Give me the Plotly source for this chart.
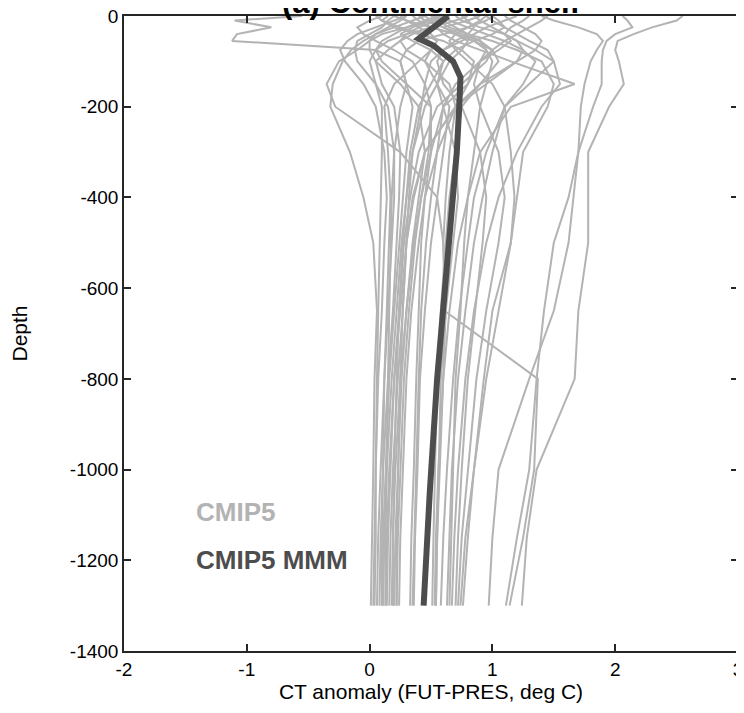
import plotly.graph_objects as go

# Depth levels (m) shared by the individual CMIP5 model profiles
depth = [0, -10, -25, -40, -55, -75, -100, -150, -200, -300, -400, -500, -650, -800, -1000, -1150, -1300]

# CT anomaly (FUT-PRES, deg C) for each CMIP5 model, at the levels above
model_01 = [0.45, 0.35, 0.20, 0.05, -0.05, -0.15, -0.22, -0.30, -0.32, -0.16, -0.05, 0.03, 0.06, 0.04, 0.03, 0.02, 0.01]
model_02 = [0.30, 0.20, 0.05, -0.10, -0.18, -0.24, -0.20, -0.05, 0.05, 0.12, 0.14, 0.12, 0.10, 0.07, 0.05, 0.04, 0.03]
model_03 = [0.60, 0.50, 0.30, 0.10, 0.00, -0.10, -0.25, -0.35, -0.28, 0.25, 0.55, 0.60, 0.62, 0.60, 0.57, 0.55, 0.54]
model_04 = [-0.55, -1.10, -0.80, -1.08, -1.12, 0.05, 0.25, 0.30, 0.25, 0.20, 0.18, 0.17, 0.16, 0.15, 0.14, 0.13, 0.13]
model_05 = [0.20, 0.15, 0.10, 0.00, -0.10, -0.12, -0.10, 0.05, 0.10, 0.10, 0.09, 0.08, 0.07, 0.06, 0.05, 0.05, 0.04]
model_06 = [0.50, 0.60, 0.50, 0.30, 0.15, 0.05, 0.00, 0.05, 0.15, 0.20, 0.20, 0.18, 0.15, 0.12, 0.09, 0.07, 0.06]
model_07 = [0.80, 0.70, 0.50, 0.35, 0.25, 0.15, 0.05, 0.10, 0.20, 0.25, 0.24, 0.22, 0.19, 0.15, 0.11, 0.09, 0.08]
model_08 = [1.00, 0.95, 0.80, 0.60, 0.40, 0.30, 0.25, 0.30, 0.35, 0.30, 0.27, 0.24, 0.20, 0.16, 0.13, 0.11, 0.10]
model_09 = [0.10, 0.00, -0.10, -0.05, 0.05, 0.20, 0.35, 0.45, 0.42, 0.35, 0.30, 0.26, 0.22, 0.18, 0.14, 0.12, 0.11]
model_10 = [0.90, 0.80, 0.60, 0.70, 0.85, 1.00, 1.05, 0.90, 0.70, 0.45, 0.35, 0.30, 0.25, 0.20, 0.16, 0.14, 0.13]
model_11 = [0.40, 0.45, 0.60, 0.75, 0.90, 1.00, 0.95, 0.75, 0.55, 0.40, 0.33, 0.28, 0.24, 0.20, 0.17, 0.15, 0.14]
model_12 = [0.70, 0.75, 0.90, 1.10, 1.20, 1.25, 1.20, 0.95, 0.70, 0.45, 0.36, 0.30, 0.27, 0.23, 0.19, 0.17, 0.16]
model_13 = [0.30, 0.25, 0.15, 0.05, 0.00, 0.00, 0.05, 0.25, 0.40, 0.45, 0.40, 0.35, 0.30, 0.25, 0.21, 0.19, 0.18]
model_14 = [0.55, 0.45, 0.30, 0.20, 0.10, 0.05, 0.10, 0.30, 0.50, 0.50, 0.42, 0.36, 0.30, 0.26, 0.23, 0.21, 0.20]
model_15 = [1.20, 1.10, 0.95, 0.85, 0.75, 0.60, 0.50, 0.45, 0.50, 0.48, 0.42, 0.37, 0.32, 0.28, 0.25, 0.23, 0.22]
model_16 = [0.65, 0.55, 0.40, 0.30, 0.25, 0.30, 0.45, 0.65, 0.70, 0.55, 0.45, 0.40, 0.34, 0.30, 0.27, 0.25, 0.24]
model_17 = [0.15, 0.10, 0.20, 0.40, 0.60, 0.75, 0.85, 0.80, 0.60, 0.50, 0.45, 0.42, 0.40, 0.38, 0.36, 0.34, 0.33]
model_18 = [0.85, 0.90, 1.00, 1.10, 1.15, 1.05, 0.90, 0.70, 0.60, 0.55, 0.50, 0.46, 0.42, 0.40, 0.38, 0.36, 0.35]
model_19 = [0.25, 0.30, 0.40, 0.50, 0.55, 0.50, 0.45, 0.55, 0.65, 0.60, 0.55, 0.50, 0.45, 0.41, 0.39, 0.37, 0.36]
model_20 = [1.10, 1.15, 1.25, 1.35, 1.40, 1.35, 1.20, 0.90, 0.75, 0.70, 0.65, 0.62, 0.58, 0.55, 0.53, 0.52, 0.51]
model_21 = [0.45, 0.50, 0.55, 0.60, 0.70, 0.90, 1.15, 1.67, 1.15, 0.90, 0.80, 0.72, 0.65, 0.60, 0.56, 0.54, 0.53]
model_22 = [0.95, 1.00, 1.10, 1.20, 1.30, 1.45, 1.50, 1.30, 1.10, 0.95, 0.85, 0.80, 0.73, 0.68, 0.63, 0.60, 0.58]
model_23 = [0.60, 0.65, 0.80, 0.95, 1.10, 1.25, 1.35, 1.25, 1.10, 1.00, 0.92, 0.85, 0.78, 0.72, 0.67, 0.65, 0.63]
model_24 = [0.35, 0.40, 0.50, 0.70, 0.85, 0.95, 1.00, 0.95, 0.90, 0.85, 0.80, 0.77, 0.74, 0.70, 0.68, 0.66, 0.65]
model_25 = [1.30, 1.25, 1.15, 1.10, 1.20, 1.35, 1.50, 1.55, 1.40, 1.20, 1.05, 0.95, 0.85, 0.78, 0.72, 0.69, 0.67]
model_26 = [0.75, 0.80, 0.85, 0.80, 0.70, 0.60, 0.55, 0.60, 0.75, 0.90, 0.95, 0.92, 0.86, 0.80, 0.75, 0.72, 0.70]
model_27 = [1.45, 1.40, 1.30, 1.20, 1.10, 1.00, 0.90, 0.85, 0.90, 1.05, 1.10, 1.05, 0.95, 0.87, 0.80, 0.75, 0.72]
model_28 = [0.50, 0.55, 0.65, 0.80, 1.00, 1.20, 1.40, 1.50, 1.45, 1.25, 1.20, 1.15, 1.05, 0.95, 0.85, 0.78, 0.74]
model_29 = [0.95, 0.90, 0.80, 0.70, 0.65, 0.70, 0.80, 1.00, 1.10, 1.15, 1.18, 1.15, 1.00, 0.93, 0.85, 0.80, 0.76]
model_30 = [0.55, 0.60, 0.70, 0.80, 0.90, 0.95, 0.90, 0.80, 0.70, 0.65, 0.62, 0.60, 0.61, 1.37, 1.34, 1.25, 1.14]
model_31 = [0.20, 0.30, 0.50, 0.70, 0.80, 0.75, 0.65, 0.55, 0.60, 0.70, 0.72, 0.68, 0.62, 0.58, 0.56, 0.55, 0.54]
model_32 = [0.05, 0.10, 0.25, 0.45, 0.55, 0.50, 0.40, 0.20, 0.12, 0.15, 0.17, 0.16, 0.14, 0.12, 0.11, 0.10, 0.10]
model_33 = [1.00, 1.05, 1.10, 1.00, 0.85, 0.70, 0.60, 0.50, 0.40, 0.33, 0.30, 0.27, 0.24, 0.22, 0.20, 0.19, 0.19]
model_34 = [0.60, 0.50, 0.35, 0.25, 0.35, 0.50, 0.60, 0.55, 0.45, 0.35, 0.32, 0.30, 0.27, 0.25, 0.23, 0.22, 0.22]
model_35 = [2.55, 2.50, 2.30, 2.15, 2.02, 2.00, 2.03, 2.07, 1.95, 1.78, 1.78, 1.78, 1.70, 1.67, 1.36, 1.28, 1.24]
model_36 = [2.06, 2.10, 2.14, 2.00, 1.93, 1.90, 1.89, 1.89, 1.82, 1.70, 1.66, 1.62, 1.50, 1.30, 1.05, 1.00, 0.97]
model_37 = [1.40, 1.50, 1.70, 1.85, 1.90, 1.85, 1.80, 1.75, 1.72, 1.70, 1.62, 1.50, 1.42, 1.36, 1.30, 1.20, 1.11]

cmip5_models = [model_01, model_02, model_03, model_04, model_05, model_06, model_07, model_08,
                model_09, model_10, model_11, model_12, model_13, model_14, model_15, model_16,
                model_17, model_18, model_19, model_20, model_21, model_22, model_23, model_24,
                model_25, model_26, model_27, model_28, model_29, model_30, model_31, model_32,
                model_33, model_34, model_35, model_36, model_37]

# Multi-model mean profile
mmm_depth = [0, -25, -50, -65, -100, -135, -165, -200, -300, -400, -500, -650, -800, -1050, -1300]
mmm_ct = [0.64, 0.52, 0.40, 0.52, 0.68, 0.74, 0.74, 0.73, 0.71, 0.68, 0.65, 0.60, 0.55, 0.49, 0.44]

x_ticks = [-2, -1, 0, 1, 2, 3]
y_ticks = [0, -200, -400, -600, -800, -1000, -1200, -1400]

LIGHT = "#b3b3b3"
DARK = "#4d4d4d"
AXIS = "#262626"
FONT = "Liberation Sans, Arial, sans-serif"

fig = go.Figure()
for prof in cmip5_models:
    fig.add_trace(go.Scatter(x=prof, y=depth, mode="lines",
                             line=dict(color=LIGHT, width=2), showlegend=False,
                             hoverinfo="skip"))
fig.add_trace(go.Scatter(x=mmm_ct, y=mmm_depth, mode="lines",
                         line=dict(color=DARK, width=6), showlegend=False,
                         hoverinfo="skip"))

axis_common = dict(showgrid=False, zeroline=False, showline=True, linecolor=AXIS,
                   linewidth=1.5, mirror="ticks", ticks="inside", ticklen=7,
                   tickwidth=1.5, tickcolor=AXIS, ticklabeloverflow="allow",
                   automargin=False,
                   tickfont=dict(family=FONT, size=19, color="#000000"))

fig.update_xaxes(range=[-2, 3], tickvals=x_ticks, ticktext=[str(v) for v in x_ticks],
                 title=dict(text="CT anomaly (FUT-PRES, deg C)", standoff=6,
                            font=dict(family=FONT, size=21, color="#000000")),
                 **axis_common)
fig.update_yaxes(range=[-1400, 0], tickvals=y_ticks, ticktext=[str(v) for v in y_ticks],
                 title=dict(text="Depth", standoff=38,
                            font=dict(family=FONT, size=21, color="#000000")),
                 **axis_common)

fig.add_annotation(x=-1.43, y=-1093, xref="x", yref="y", text="<b>CMIP5</b>",
                   showarrow=False, xanchor="left", yanchor="middle",
                   font=dict(family=FONT, size=26, color=LIGHT))
fig.add_annotation(x=-1.43, y=-1199, xref="x", yref="y", text="<b>CMIP5 MMM</b>",
                   showarrow=False, xanchor="left", yanchor="middle",
                   font=dict(family=FONT, size=26, color=DARK))
fig.add_annotation(x=0.5, y=1, xref="paper", yref="paper", text="<b>(a) Continental shelf</b>",
                   showarrow=False, xanchor="center", yanchor="bottom", yshift=-6,
                   font=dict(family=FONT, size=31, color="#000000"))

# The page adds an 8 px body margin, so the figure is 8 px smaller than the window
fig.update_layout(width=736, height=705, plot_bgcolor="white", paper_bgcolor="white",
                  margin=dict(l=116, r=6, t=8, b=62, autoexpand=False), showlegend=False)

fig.write_html("out.html")
